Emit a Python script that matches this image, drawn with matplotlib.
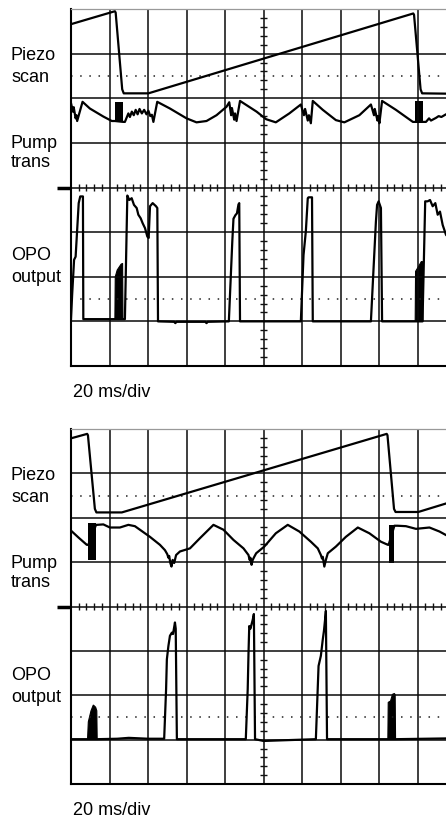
import matplotlib
matplotlib.use("Agg")
import matplotlib.pyplot as plt
import numpy as np

plt.rcParams['font.family'] = ['Liberation Sans', 'DejaVu Sans']

# ---- panel 1 (top) : x in divisions (20 ms/div), y in divisions ----
scan1_x = [0.00, 1.14, 1.16, 1.33, 1.37, 2.01, 8.89, 8.91, 9.08, 9.12, 10.0]
scan1_y = [3.66, 3.95, 3.92, 2.20, 2.11, 2.11, 3.90, 3.87, 2.20, 2.11, 2.10]

pump1_x = [0.00, 0.05, 0.07, 0.12, 0.14, 0.16, 0.30, 0.49, 0.84, 1.06, 1.14,
           1.36, 1.40, 1.49, 1.53, 1.58, 1.63, 1.68, 1.73, 1.78, 1.84, 1.90,
           1.96, 2.01, 2.06, 2.10, 2.14, 2.24, 2.57, 3.00, 3.26, 3.52, 3.78,
           4.04, 4.11, 4.16, 4.18, 4.24, 4.26, 4.30, 4.39, 4.82, 5.07, 5.32,
           5.67, 5.97, 6.05, 6.08, 6.15, 6.18, 6.23, 6.28, 6.54, 6.88, 7.10,
           7.49, 7.79, 7.87, 7.89, 7.96, 7.98, 8.01, 8.08, 8.44, 8.88, 8.94,
           9.13, 9.22, 9.30, 9.35, 9.48, 9.55, 9.62, 9.74, 10.0]
pump1_y = [1.89, 1.70, 1.80, 1.55, 1.62, 1.49, 1.92, 1.77, 1.59, 1.49, 1.49,
           1.47, 1.47, 1.66, 1.58, 1.70, 1.62, 1.74, 1.64, 1.76, 1.66, 1.74,
           1.64, 1.72, 1.60, 1.63, 1.47, 1.92, 1.77, 1.55, 1.46, 1.49, 1.62,
           1.81, 1.91, 1.62, 1.78, 1.52, 1.66, 1.49, 1.94, 1.70, 1.53, 1.46,
           1.66, 1.86, 1.62, 1.76, 1.50, 1.62, 1.44, 1.94, 1.74, 1.51, 1.46,
           1.62, 1.86, 1.62, 1.76, 1.50, 1.60, 1.44, 1.94, 1.74, 1.47, 1.47,
           1.47, 1.47, 1.55, 1.50, 1.56, 1.60, 1.58, 1.64, 1.68]
pump1_blocks = [(1.14, 1.36, 1.47, 1.92), (8.94, 9.13, 1.44, 1.94)]

opo1_x = [0.00, 0.03, 0.08, 0.12, 0.20, 0.24, 0.31, 0.32, 1.14, 1.40, 1.463,
          1.515, 1.576, 1.636, 1.706, 1.749, 1.81, 1.861, 1.922, 1.983, 2.017,
          2.052, 2.121, 2.208, 2.242, 2.26, 2.68, 2.71, 2.74, 3.49, 3.52, 3.55,
          4.10, 4.14, 4.19, 4.22, 4.27, 4.31, 4.35, 4.37, 4.39, 5.97, 6.04,
          6.10, 6.15, 6.17, 6.26, 6.28, 7.79, 7.85, 7.92, 7.95, 7.99, 8.05,
          8.08, 9.13, 9.20, 9.264, 9.325, 9.394, 9.463, 9.524, 9.584, 9.654,
          9.74, 10.0]
opo1_y = [-2.95, -2.40, -1.62, -1.55, -0.35, -0.20, -0.20, -2.95, -2.95, -2.95,
          -0.18, -0.28, -0.24, -0.39, -0.46, -0.61, -0.69, -0.80, -0.91, -1.10,
          -1.13, -0.42, -0.35, -0.42, -0.46, -3.00, -3.01, -3.04, -3.01, -3.01,
          -3.04, -3.01, -3.00, -2.20, -1.20, -0.70, -0.62, -0.58, -0.38, -0.35,
          -3.00, -3.00, -1.51, -0.98, -0.24, -0.22, -0.22, -3.00, -3.00, -1.96,
          -0.76, -0.39, -0.31, -0.46, -3.00, -3.00, -0.31, -0.31, -0.28, -0.42,
          -0.35, -0.61, -0.54, -0.84, -1.06, -1.30]
opo1_burst_x = [[1.14, 1.15, 1.20, 1.30, 1.34, 1.35],
                [8.94, 8.95, 9.02, 9.10, 9.13, 9.14]]
opo1_burst_y = [[-2.95, -2.00, -1.85, -1.72, -1.70, -2.95],
                [-3.00, -1.88, -1.78, -1.66, -1.66, -3.00]]

# ---- panel 2 (bottom) ----
scan2_x = [0.00, 0.42, 0.44, 0.62, 0.66, 1.32, 8.20, 8.22, 8.39, 8.43, 9.02, 10.0]
scan2_y = [3.79, 3.89, 3.86, 2.20, 2.12, 2.12, 3.89, 3.86, 2.20, 2.13, 2.13, 2.39]

pump2_x = [0.00, 0.20, 0.41, 0.45, 0.65, 0.67, 0.84, 1.01, 1.27, 1.49, 1.66,
           1.79, 2.05, 2.31, 2.44, 2.50, 2.53, 2.55, 2.58, 2.61, 2.64, 2.68,
           2.73, 2.83, 3.09, 3.35, 3.70, 3.96, 4.22, 4.48, 4.61, 4.64, 4.66,
           4.69, 4.72, 4.76, 4.81, 5.02, 5.32, 5.63, 5.93, 6.23, 6.41, 6.49,
           6.52, 6.54, 6.58, 6.62, 6.67, 6.88, 7.14, 7.45, 7.75, 8.05, 8.23,
           8.25, 8.40, 8.48, 8.70, 8.96, 9.31, 9.57, 9.74, 10.0]
pump2_y = [1.71, 1.55, 1.39, 1.39, 1.84, 1.84, 1.85, 1.78, 1.78, 1.84, 1.81,
           1.73, 1.57, 1.39, 1.27, 1.18, 1.10, 1.14, 0.98, 0.90, 1.05, 0.98,
           1.16, 1.24, 1.31, 1.54, 1.84, 1.73, 1.50, 1.31, 1.16, 1.05, 1.10,
           0.94, 1.05, 1.12, 1.20, 1.35, 1.65, 1.84, 1.69, 1.46, 1.31, 1.16,
           1.08, 1.12, 0.90, 1.05, 1.20, 1.35, 1.57, 1.78, 1.65, 1.46, 1.39,
           1.39, 1.82, 1.82, 1.81, 1.75, 1.78, 1.69, 1.61, 1.52]
pump2_blocks = [(0.45, 0.65, 1.05, 1.88), (8.25, 8.40, 0.97, 1.84)]

opo2_x = [0.00, 0.43, 0.68, 1.20, 1.50, 2.00, 2.42, 2.47, 2.49, 2.53, 2.57,
          2.62, 2.65, 2.70, 2.72, 2.75, 4.54, 4.59, 4.61, 4.63, 4.66, 4.72,
          4.75, 4.78, 5.00, 6.36, 6.43, 6.49, 6.54, 6.57, 6.60, 6.62, 6.65,
          8.23, 8.43, 10.0]
opo2_y = [-2.99, -2.99, -2.99, -2.98, -2.96, -2.98, -2.98, -1.86, -1.19, -0.89,
          -0.66, -0.59, -0.62, -0.36, -0.50, -2.99, -2.99, -1.86, -1.07, -0.44,
          -0.50, -0.30, -0.17, -2.99, -3.03, -2.99, -1.34, -1.11, -0.74, -0.55,
          -0.29, -0.10, -2.99, -2.99, -2.99, -2.97]
opo2_burst_x = [[0.43, 0.45, 0.52, 0.58, 0.64, 0.67, 0.68],
                [8.23, 8.24, 8.30, 8.35, 8.40, 8.42, 8.43]]
opo2_burst_y = [[-2.99, -2.60, -2.35, -2.22, -2.27, -2.35, -2.99],
                [-2.99, -2.16, -2.13, -1.98, -1.96, -1.99, -2.99]]

W, H = 446, 819
LW = 1.6


def draw_panel(ax, scan, pump, blocks, opo, bursts):
    ax.set_xlim(0, 10)
    ax.set_ylim(-4, 4)
    ax.set_xticks(range(11))
    ax.set_yticks(range(-4, 5))
    ax.grid(color='#0a0a0a', linewidth=1.1)
    ax.tick_params(length=0, labelbottom=False, labelleft=False)
    ax.spines['right'].set_visible(False)
    ax.spines['top'].set_color('#999999')
    ax.spines['top'].set_linewidth(0.9)
    ax.spines['left'].set_linewidth(1.5)
    ax.spines['bottom'].set_linewidth(1.5)

    # dotted reference levels
    for yy in (2.5, -2.5):
        ax.axhline(yy, color='#222222', linewidth=1.1, linestyle=(0, (1, 5)))

    # minor ticks on the centre cross
    minor = np.arange(0.2, 10, 0.2)
    minor = minor[np.abs(minor - np.round(minor)) > 0.05]
    ax.vlines(minor, -0.08, 0.08, color='#111111', linewidth=1.0)
    yminor = np.arange(-3.8, 4, 0.2)
    yminor = yminor[np.abs(yminor - np.round(yminor)) > 0.05]
    ax.hlines(yminor, 4.91, 5.09, color='#111111', linewidth=1.0)

    # channel marker on the left
    ax.plot([-0.36, 0], [0, 0], color='k', linewidth=2.5, clip_on=False,
            solid_capstyle='butt')

    ax.plot(scan[0], scan[1], color='k', linewidth=LW)
    ax.plot(pump[0], pump[1], color='k', linewidth=LW)
    for x0, x1, lo, hi in blocks:
        ax.fill_between([x0, x1], lo, hi, color='k', linewidth=0)
    ax.plot(opo[0], opo[1], color='k', linewidth=LW)
    for bx, by in zip(bursts[0], bursts[1]):
        ax.fill(bx, by, color='k', linewidth=0.8)


fig = plt.figure(figsize=(W / 100, H / 100), dpi=100)

ax1 = fig.add_axes([71 / W, 1 - 366 / H, 385 / W, 357 / H])
draw_panel(ax1, (scan1_x, scan1_y), (pump1_x, pump1_y), pump1_blocks,
           (opo1_x, opo1_y), (opo1_burst_x, opo1_burst_y))

ax2 = fig.add_axes([71 / W, 1 - 784 / H, 385 / W, 355 / H])
draw_panel(ax2, (scan2_x, scan2_y), (pump2_x, pump2_y), pump2_blocks,
           (opo2_x, opo2_y), (opo2_burst_x, opo2_burst_y))


def label(x, y, s):
    fig.text(x / W, 1 - y / H, s, fontsize=13, va='baseline', ha='left')


for top in (0, 420):
    label(11, 60 + top, "Piezo")
    label(11, 82 + top, "scan")
    label(11, 148 + top, "Pump")
    label(11, 167 + top, "trans")
    label(11, 260 + top, "OPO")
    label(11, 282 + top, "output")
label(73, 397, "20 ms/div")
label(73, 815, "20 ms/div")

fig.savefig("out.png", dpi=100)
